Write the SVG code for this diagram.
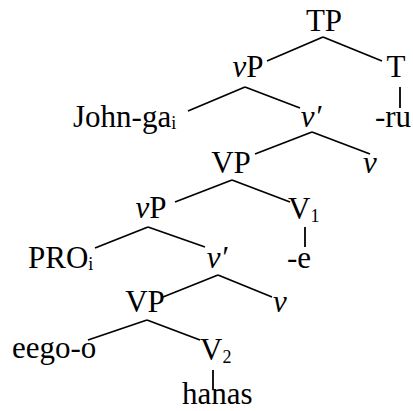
<svg xmlns="http://www.w3.org/2000/svg" width="413" height="411" viewBox="0 0 413 411">
  <style>
    text { font-family: "Liberation Serif", "Times New Roman", serif; font-size: 31px; fill: #000; }
    .m { text-anchor: middle; }
    .it { font-style: italic; }
    .sub { font-size: 18px; font-style: normal; }
    #edges line { stroke: #000; stroke-width: 1.8; stroke-linecap: butt; }
  </style>
  <rect width="413" height="411" fill="#fff"/>

  <!-- tree branches -->
  <g id="edges">
    <line x1="323" y1="37" x2="267" y2="61"/>
    <line x1="323" y1="37" x2="382" y2="61"/>
    <line x1="400" y1="87" x2="400" y2="108"/>
    <line x1="245" y1="87" x2="188" y2="111"/>
    <line x1="245" y1="87" x2="300" y2="108"/>
    <line x1="312" y1="132" x2="255" y2="154"/>
    <line x1="312" y1="132" x2="370" y2="154"/>
    <line x1="232" y1="180" x2="175" y2="202"/>
    <line x1="232" y1="180" x2="290" y2="202"/>
    <line x1="305" y1="227" x2="305" y2="247"/>
    <line x1="148" y1="227" x2="95" y2="248"/>
    <line x1="148" y1="227" x2="205" y2="247"/>
    <line x1="218" y1="275" x2="163" y2="297"/>
    <line x1="218" y1="275" x2="272" y2="297"/>
    <line x1="147" y1="320" x2="88" y2="340"/>
    <line x1="147" y1="320" x2="200" y2="340"/>
    <line x1="213" y1="370" x2="213" y2="389"/>
  </g>

  <g id="tp"><text class="m" x="324" y="31">TP</text></g>
  <g id="vp1"><text class="m" x="248" y="77"><tspan class="it">v</tspan>P</text></g>
  <g id="t"><text class="m" x="396" y="77">T</text></g>
  <g id="ru"><text class="m" x="393" y="127">-ru</text></g>
  <g id="john"><text x="73" y="127">John-ga<tspan class="sub" dy="2">i</tspan></text></g>
  <g id="vbar1"><text class="m it" x="311" y="127">v′</text></g>
  <g id="vp2"><text class="m" x="231" y="173">VP</text></g>
  <g id="v1"><text class="m it" x="370" y="173">v</text></g>
  <g id="vp3"><text class="m" x="151" y="218"><tspan class="it">v</tspan>P</text></g>
  <g id="V1"><text x="288" y="219">V<tspan class="sub" dy="3">1</tspan></text></g>
  <g id="e"><text class="m" x="299" y="268">-e</text></g>
  <g id="pro"><text x="28" y="268">PRO<tspan class="sub" dy="2">i</tspan></text></g>
  <g id="vbar2"><text class="m it" x="217" y="268">v′</text></g>
  <g id="vp4"><text class="m" x="145" y="312">VP</text></g>
  <g id="v2"><text class="m it" x="280" y="312">v</text></g>
  <g id="eego"><text x="12" y="358">eego-o</text></g>
  <g id="V2"><text x="200" y="360">V<tspan class="sub" dy="3">2</tspan></text></g>
  <g id="hanas"><text x="182" y="404">hanas</text></g>
</svg>
